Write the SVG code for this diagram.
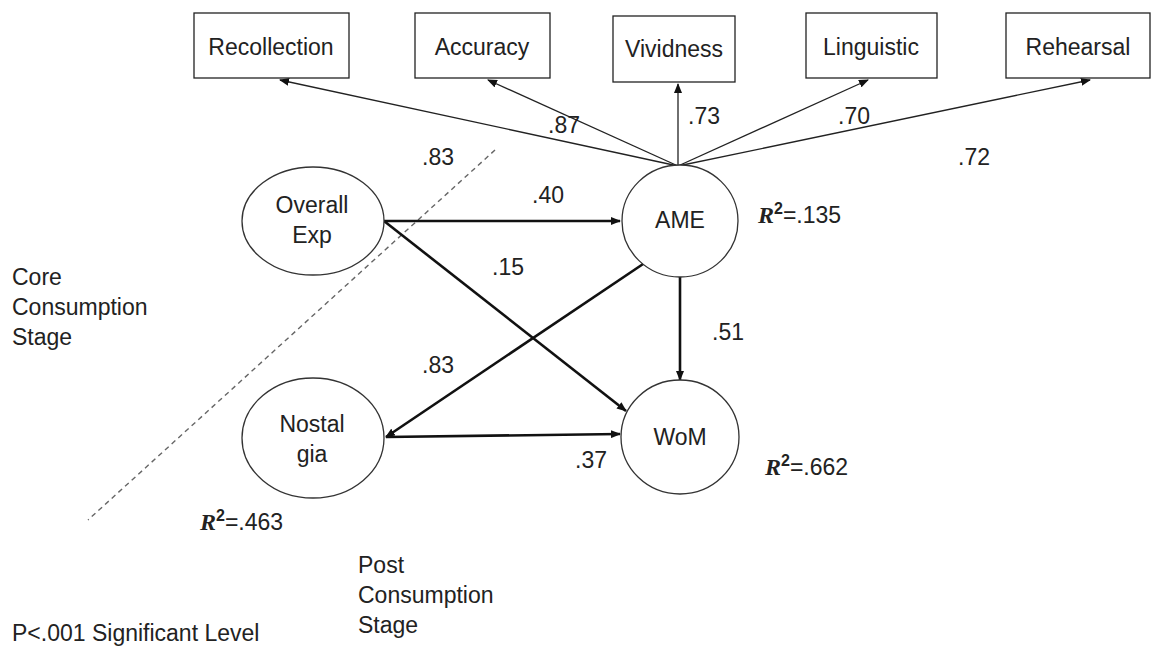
<svg xmlns="http://www.w3.org/2000/svg" width="1153" height="652" viewBox="0 0 1153 652">
<defs>
<style>
text{font-family:"Liberation Sans",Arial,sans-serif;font-size:23px;fill:#222}
.c{text-anchor:middle}
.box{fill:#fff;stroke:#222;stroke-width:1.3}
.ell{fill:#fff;stroke:#333;stroke-width:1.3}
.thin{stroke:#222;stroke-width:1.3;fill:none}
.thick{stroke:#111;stroke-width:2.6;fill:none}
.r{font-family:"Liberation Serif","DejaVu Serif",serif;font-weight:bold;font-style:italic;font-size:24px}
.s{font-weight:bold;font-size:16px}
</style>
<marker id="ah" markerWidth="10" markerHeight="8" refX="9" refY="4" orient="auto" markerUnits="userSpaceOnUse">
<path d="M0,0 L10,4 L0,8 Z" fill="#111"/>
</marker>
</defs>
<rect width="1153" height="652" fill="#fff"/>
<line x1="495" y1="150" x2="88" y2="520" stroke="#666" stroke-width="1.4" stroke-dasharray="5,4"/>
<g id="connectors">
<line class="thin" x1="678" y1="166" x2="280" y2="80" marker-end="url(#ah)"/>
<line class="thin" x1="678" y1="166" x2="488" y2="80" marker-end="url(#ah)"/>
<line class="thin" x1="678" y1="166" x2="678" y2="84" marker-end="url(#ah)"/>
<line class="thin" x1="678" y1="166" x2="868" y2="80" marker-end="url(#ah)"/>
<line class="thin" x1="678" y1="166" x2="1090" y2="80" marker-end="url(#ah)"/>
<line class="thick" x1="384" y1="221" x2="620" y2="221" marker-end="url(#ah)"/>
<line class="thick" x1="384" y1="221" x2="626" y2="411" marker-end="url(#ah)"/>
<line class="thick" x1="652" y1="258" x2="386" y2="437" marker-end="url(#ah)"/>
<line class="thick" x1="680" y1="277" x2="680" y2="380" marker-end="url(#ah)"/>
<line class="thick" x1="386" y1="437" x2="620" y2="434" marker-end="url(#ah)"/>
</g>
<g id="recollection"><rect class="box" x="194" y="13" width="155" height="65"/><text class="c" x="271" y="55">Recollection</text></g>
<g id="accuracy"><rect class="box" x="415" y="13" width="135" height="65"/><text class="c" x="482" y="55">Accuracy</text></g>
<g id="vividness"><rect class="box" x="613" y="16" width="122" height="66"/><text class="c" x="674" y="57">Vividness</text></g>
<g id="linguistic"><rect class="box" x="806" y="13" width="131" height="65"/><text class="c" x="871" y="55">Linguistic</text></g>
<g id="rehearsal"><rect class="box" x="1006" y="13" width="144" height="65"/><text class="c" x="1078" y="55">Rehearsal</text></g>
<g id="overall"><ellipse class="ell" cx="313" cy="221" rx="71" ry="54"/><text class="c" x="312" y="213">Overall</text><text class="c" x="312" y="243">Exp</text></g>
<g id="ame"><ellipse class="ell" cx="680" cy="221" rx="58" ry="56"/><text class="c" x="680" y="228">AME</text></g>
<g id="nostalgia"><ellipse class="ell" cx="313" cy="438" rx="71" ry="60"/><text class="c" x="312" y="432">Nostal</text><text class="c" x="312" y="462">gia</text></g>
<g id="wom"><ellipse class="ell" cx="680" cy="437" rx="59" ry="57"/><text class="c" x="680" y="445">WoM</text></g>
<g id="labels">
<text x="548" y="133">.87</text>
<text x="688" y="124">.73</text>
<text x="838" y="124">.70</text>
<text x="958" y="165">.72</text>
<text x="422" y="165">.83</text>
<text x="532" y="203">.40</text>
<text x="492" y="275">.15</text>
<text x="712" y="340">.51</text>
<text x="422" y="373">.83</text>
<text x="575" y="468">.37</text>
<text x="758" y="223"><tspan class="r">R</tspan><tspan class="s" dy="-9">2</tspan><tspan dy="9">=.135</tspan></text>
<text x="765" y="475"><tspan class="r">R</tspan><tspan class="s" dy="-9">2</tspan><tspan dy="9">=.662</tspan></text>
<text x="200" y="530"><tspan class="r">R</tspan><tspan class="s" dy="-9">2</tspan><tspan dy="9">=.463</tspan></text>
<text x="12" y="285">Core</text>
<text x="12" y="315">Consumption</text>
<text x="12" y="345">Stage</text>
<text x="358" y="573">Post</text>
<text x="358" y="603">Consumption</text>
<text x="358" y="633">Stage</text>
<text x="12" y="641">P&lt;.001 Significant Level</text>
</g>
</svg>
